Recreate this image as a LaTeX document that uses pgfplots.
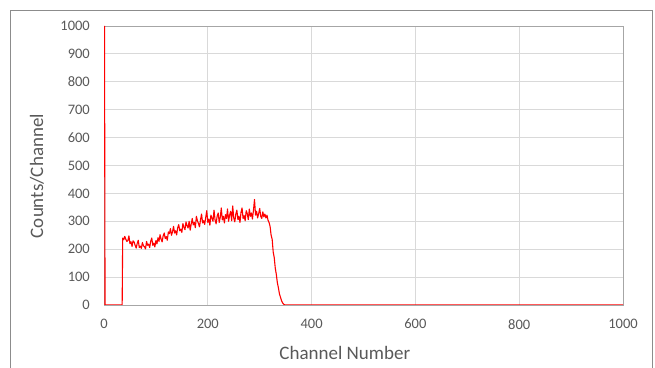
\documentclass[border=0pt]{standalone}
\usepackage{fontspec}
\setmainfont{Carlito}
\usepackage{pgfplots}
\pgfplotsset{compat=1.18}
\definecolor{tickc}{HTML}{595959}
\definecolor{gridc}{HTML}{D9D9D9}
\definecolor{framec}{HTML}{A6A6A6}
\definecolor{outerc}{HTML}{8C8C8C}
\begin{document}
\begin{tikzpicture}
\useasboundingbox (0bp,0bp) rectangle (655bp,368bp);
\draw[outerc, line width=1bp] (10.5bp,-5bp) rectangle (652bp,357.5bp);
\begin{axis}[
  at={(104bp,63bp)}, anchor=south west,
  scale only axis, width=519bp, height=279bp,
  xmin=0, xmax=1000, ymin=0, ymax=1000,
  xtick={0,200,...,1000}, ytick={0,100,...,1000},
  grid=major, major grid style={gridc, line width=0.9bp},
  axis line style={framec, line width=0.9bp},
  tick style={draw=none},
  /pgf/number format/assume math mode=true,
  /pgf/number format/1000 sep={},
  ticklabel style={font=\fontsize{14.5bp}{17bp}\selectfont, text=tickc},
  yticklabel style={anchor=east, inner sep=0pt, xshift=-14bp},
  xticklabel style={anchor=north, inner sep=0pt, yshift=-14bp},
  xlabel={Channel Number}, ylabel={Counts/Channel},
  label style={font=\fontsize{19bp}{22bp}\selectfont, text=tickc},
  xlabel style={at={(axis description cs:0.464,-0.172)}, anchor=center},
  ylabel style={at={(axis description cs:-0.129,0.462)}, anchor=center, rotate=0},
  clip=true,
]
\addplot[red, line width=1.1bp, line join=round] coordinates {
(1,1000) (2,0) (35,0)
(36,240) (38,234) (40,246) (42,236) (44,228) (46,231) (48,248) (50,220)
(52,227) (54,210) (56,230) (58,226) (60,214) (62,204) (64,221) (66,232)
(68,206) (70,211) (72,203) (74,224) (76,212) (78,209) (80,201) (82,228)
(84,214) (86,218) (88,206) (90,229) (92,240) (94,214) (96,222) (98,208)
(100,231) (102,219) (104,241) (106,228) (108,252) (110,236) (112,226) (114,248)
(116,258) (118,238) (120,245) (122,232) (124,262) (126,256) (128,274) (130,250)
(132,262) (134,282) (136,258) (138,266) (140,251) (142,277) (144,288) (146,266)
(148,272) (150,260) (152,292) (154,279) (156,270) (158,298) (160,284) (162,276)
(164,300) (166,268) (168,290) (170,310) (172,287) (174,296) (176,277) (178,318)
(180,302) (182,292) (184,280) (186,306) (188,326) (190,294) (192,302) (194,289)
(196,314) (198,338) (200,296) (202,308) (204,286) (206,322) (208,312) (210,300)
(212,340) (214,305) (216,291) (218,318) (220,330) (222,296) (224,314) (226,348)
(228,305) (230,318) (232,294) (234,324) (236,310) (238,344) (240,300) (242,322)
(244,336) (246,302) (248,355) (250,312) (252,298) (254,326) (256,340) (258,306)
(260,318) (262,296) (264,332) (266,348) (268,310) (270,320) (272,302) (274,338)
(276,328) (278,306) (280,344) (282,318) (284,330) (286,308) (288,340) (290,378)
(292,322) (294,336) (296,312) (298,328) (300,346) (302,318) (304,310) (306,334)
(308,316) (310,326) (312,312) (314,322) (316,304) (318,296) (320,282) (322,250)
(324,236) (326,190) (328,170) (330,132) (332,110) (334,80) (336,62) (338,40)
(340,28) (342,16) (344,8) (346,3) (348,1) (350,0) (1000,0)
};
\end{axis}
\end{tikzpicture}
\end{document}
